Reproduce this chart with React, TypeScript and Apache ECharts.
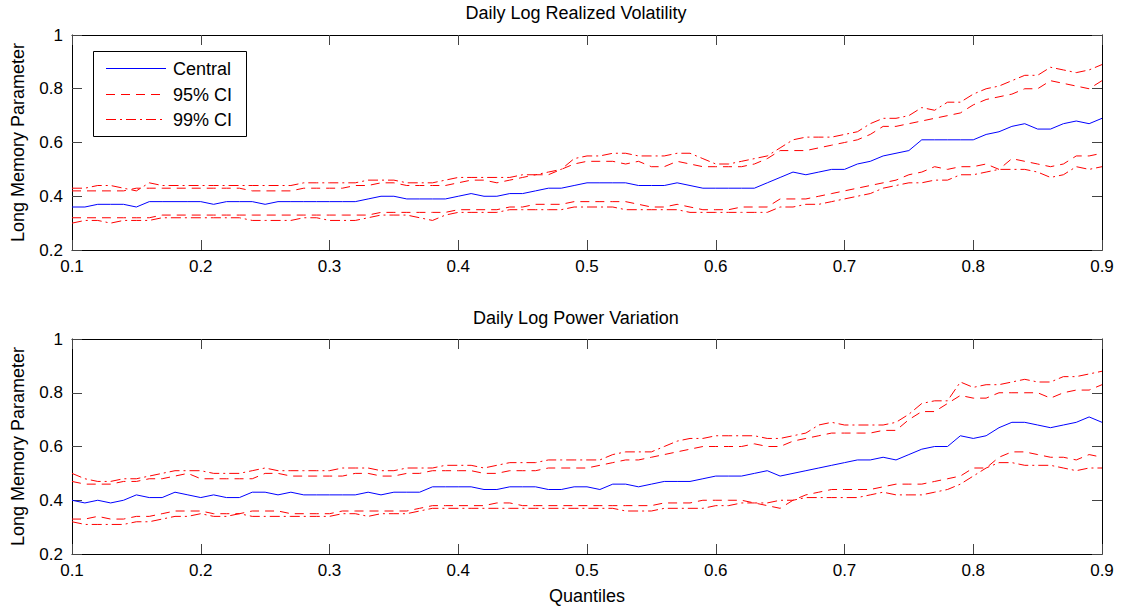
import React, { useEffect, useRef } from "react";
import * as echarts from "echarts";

const quantiles = [
  0.10, 0.11, 0.12, 0.13, 0.14, 0.15, 0.16, 0.17, 0.18, 0.19,
  0.20, 0.21, 0.22, 0.23, 0.24, 0.25, 0.26, 0.27, 0.28, 0.29,
  0.30, 0.31, 0.32, 0.33, 0.34, 0.35, 0.36, 0.37, 0.38, 0.39,
  0.40, 0.41, 0.42, 0.43, 0.44, 0.45, 0.46, 0.47, 0.48, 0.49,
  0.50, 0.51, 0.52, 0.53, 0.54, 0.55, 0.56, 0.57, 0.58, 0.59,
  0.60, 0.61, 0.62, 0.63, 0.64, 0.65, 0.66, 0.67, 0.68, 0.69,
  0.70, 0.71, 0.72, 0.73, 0.74, 0.75, 0.76, 0.77, 0.78, 0.79,
  0.80, 0.81, 0.82, 0.83, 0.84, 0.85, 0.86, 0.87, 0.88, 0.89,
  0.90,
];

const xTickLabels = ["0.1", "0.2", "0.3", "0.4", "0.5", "0.6", "0.7", "0.8", "0.9"];
const yTickLabels = ["0.2", "0.4", "0.6", "0.8", "1"];
const seriesNames = ["Central", "95% CI", "99% CI"];
const panelTitles = ["Daily Log Realized Volatility", "Daily Log Power Variation"];

// Daily Log Realized Volatility
const rvCentral = [
  0.36, 0.36, 0.37, 0.37, 0.37, 0.36, 0.38, 0.38, 0.38, 0.38,
  0.38, 0.37, 0.38, 0.38, 0.38, 0.37, 0.38, 0.38, 0.38, 0.38,
  0.38, 0.38, 0.38, 0.39, 0.40, 0.40, 0.39, 0.39, 0.39, 0.39,
  0.40, 0.41, 0.40, 0.40, 0.41, 0.41, 0.42, 0.43, 0.43, 0.44,
  0.45, 0.45, 0.45, 0.45, 0.44, 0.44, 0.44, 0.45, 0.44, 0.43,
  0.43, 0.43, 0.43, 0.43, 0.45, 0.47, 0.49, 0.48, 0.49, 0.50,
  0.50, 0.52, 0.53, 0.55, 0.56, 0.57, 0.61, 0.61, 0.61, 0.61,
  0.61, 0.63, 0.64, 0.66, 0.67, 0.65, 0.65, 0.67, 0.68, 0.67,
  0.69,
];
const rvUpper95 = [
  0.42, 0.42, 0.42, 0.42, 0.42, 0.43, 0.43, 0.43, 0.43, 0.43,
  0.43, 0.43, 0.43, 0.43, 0.42, 0.42, 0.42, 0.42, 0.43, 0.43,
  0.43, 0.43, 0.44, 0.44, 0.45, 0.45, 0.44, 0.44, 0.44, 0.44,
  0.45, 0.46, 0.46, 0.45, 0.46, 0.47, 0.48, 0.48, 0.50, 0.52,
  0.53, 0.53, 0.53, 0.52, 0.53, 0.51, 0.51, 0.53, 0.52, 0.51,
  0.51, 0.51, 0.51, 0.52, 0.54, 0.57, 0.57, 0.57, 0.58, 0.59,
  0.60, 0.61, 0.63, 0.66, 0.66, 0.67, 0.68, 0.69, 0.70, 0.71,
  0.74, 0.76, 0.77, 0.78, 0.80, 0.80, 0.83, 0.82, 0.81, 0.80,
  0.83,
];
const rvUpper99 = [
  0.43, 0.43, 0.44, 0.44, 0.43, 0.42, 0.45, 0.44, 0.44, 0.44,
  0.44, 0.44, 0.44, 0.44, 0.44, 0.44, 0.44, 0.44, 0.45, 0.45,
  0.45, 0.45, 0.45, 0.46, 0.46, 0.46, 0.45, 0.45, 0.45, 0.46,
  0.47, 0.47, 0.47, 0.47, 0.47, 0.48, 0.48, 0.49, 0.50, 0.54,
  0.55, 0.55, 0.56, 0.56, 0.55, 0.55, 0.55, 0.56, 0.56, 0.54,
  0.52, 0.52, 0.53, 0.54, 0.55, 0.58, 0.61, 0.62, 0.62, 0.62,
  0.63, 0.64, 0.67, 0.69, 0.69, 0.70, 0.73, 0.72, 0.75, 0.75,
  0.78, 0.80, 0.81, 0.83, 0.85, 0.85, 0.88, 0.87, 0.86, 0.87,
  0.89,
];
const rvLower95 = [
  0.32, 0.32, 0.32, 0.32, 0.32, 0.32, 0.32, 0.33, 0.33, 0.33,
  0.33, 0.33, 0.33, 0.33, 0.33, 0.33, 0.33, 0.33, 0.33, 0.33,
  0.33, 0.33, 0.33, 0.33, 0.34, 0.34, 0.34, 0.34, 0.34, 0.34,
  0.35, 0.35, 0.35, 0.35, 0.36, 0.36, 0.37, 0.37, 0.37, 0.38,
  0.38, 0.38, 0.38, 0.38, 0.37, 0.36, 0.36, 0.37, 0.36, 0.35,
  0.35, 0.35, 0.36, 0.36, 0.36, 0.39, 0.39, 0.39, 0.40, 0.41,
  0.42, 0.43, 0.44, 0.45, 0.46, 0.48, 0.49, 0.51, 0.50, 0.51,
  0.51, 0.52, 0.50, 0.54, 0.53, 0.52, 0.51, 0.52, 0.55, 0.55,
  0.56,
];
const rvLower99 = [
  0.30, 0.31, 0.31, 0.30, 0.31, 0.31, 0.31, 0.32, 0.32, 0.32,
  0.32, 0.32, 0.32, 0.32, 0.31, 0.31, 0.31, 0.31, 0.32, 0.32,
  0.31, 0.31, 0.31, 0.32, 0.33, 0.33, 0.33, 0.32, 0.31, 0.33,
  0.34, 0.34, 0.34, 0.34, 0.35, 0.35, 0.35, 0.35, 0.35, 0.36,
  0.36, 0.36, 0.36, 0.35, 0.35, 0.35, 0.35, 0.35, 0.34, 0.34,
  0.34, 0.34, 0.34, 0.34, 0.34, 0.36, 0.36, 0.37, 0.37, 0.38,
  0.39, 0.40, 0.41, 0.43, 0.44, 0.45, 0.45, 0.46, 0.46, 0.48,
  0.48, 0.49, 0.50, 0.50, 0.50, 0.49, 0.47, 0.48, 0.51, 0.50,
  0.51,
];

// Daily Log Power Variation
const pvCentral = [
  0.40, 0.39, 0.40, 0.39, 0.40, 0.42, 0.41, 0.41, 0.43, 0.42,
  0.41, 0.42, 0.41, 0.41, 0.43, 0.43, 0.42, 0.43, 0.42, 0.42,
  0.42, 0.42, 0.42, 0.43, 0.42, 0.43, 0.43, 0.43, 0.45, 0.45,
  0.45, 0.45, 0.44, 0.44, 0.45, 0.45, 0.45, 0.44, 0.44, 0.45,
  0.45, 0.44, 0.46, 0.46, 0.45, 0.46, 0.47, 0.47, 0.47, 0.48,
  0.49, 0.49, 0.49, 0.50, 0.51, 0.49, 0.50, 0.51, 0.52, 0.53,
  0.54, 0.55, 0.55, 0.56, 0.55, 0.57, 0.59, 0.60, 0.60, 0.64,
  0.63, 0.64, 0.67, 0.69, 0.69, 0.68, 0.67, 0.68, 0.69, 0.71,
  0.69,
];
const pvUpper95 = [
  0.47, 0.46, 0.46, 0.46, 0.47, 0.47, 0.48, 0.48, 0.49, 0.50,
  0.48, 0.48, 0.48, 0.48, 0.48, 0.50, 0.50, 0.49, 0.49, 0.49,
  0.49, 0.49, 0.50, 0.50, 0.49, 0.49, 0.50, 0.50, 0.51, 0.51,
  0.51, 0.51, 0.50, 0.50, 0.51, 0.51, 0.51, 0.52, 0.52, 0.52,
  0.52, 0.53, 0.54, 0.55, 0.55, 0.56, 0.57, 0.58, 0.59, 0.60,
  0.60, 0.60, 0.60, 0.61, 0.60, 0.60, 0.62, 0.63, 0.64, 0.65,
  0.65, 0.65, 0.65, 0.66, 0.66, 0.70, 0.73, 0.73, 0.76, 0.79,
  0.78, 0.78, 0.80, 0.80, 0.80, 0.80, 0.78, 0.80, 0.81, 0.81,
  0.83,
];
const pvUpper99 = [
  0.50, 0.48, 0.47, 0.47, 0.48, 0.48, 0.49, 0.50, 0.51, 0.51,
  0.51, 0.50, 0.50, 0.50, 0.51, 0.52, 0.51, 0.51, 0.51, 0.51,
  0.51, 0.52, 0.52, 0.52, 0.51, 0.51, 0.52, 0.52, 0.52, 0.53,
  0.53, 0.53, 0.52, 0.53, 0.54, 0.54, 0.54, 0.55, 0.55, 0.55,
  0.55, 0.55, 0.57, 0.58, 0.58, 0.58, 0.60, 0.62, 0.63, 0.63,
  0.64, 0.64, 0.64, 0.64, 0.63, 0.63, 0.64, 0.65, 0.68, 0.69,
  0.68, 0.68, 0.68, 0.68, 0.69, 0.72, 0.76, 0.77, 0.77, 0.84,
  0.82, 0.83, 0.83, 0.84, 0.85, 0.84, 0.84, 0.86, 0.86, 0.87,
  0.88,
];
const pvLower95 = [
  0.33, 0.33, 0.34, 0.33, 0.33, 0.34, 0.34, 0.35, 0.36, 0.36,
  0.36, 0.35, 0.35, 0.35, 0.36, 0.36, 0.36, 0.35, 0.35, 0.35,
  0.35, 0.36, 0.36, 0.36, 0.36, 0.36, 0.36, 0.37, 0.38, 0.38,
  0.38, 0.38, 0.38, 0.39, 0.39, 0.38, 0.38, 0.38, 0.38, 0.38,
  0.38, 0.38, 0.38, 0.38, 0.38, 0.38, 0.39, 0.39, 0.39, 0.40,
  0.40, 0.40, 0.40, 0.39, 0.38, 0.37, 0.40, 0.42, 0.43, 0.44,
  0.44, 0.44, 0.44, 0.45, 0.46, 0.46, 0.46, 0.47, 0.48, 0.49,
  0.52, 0.52, 0.56, 0.58, 0.58, 0.57, 0.56, 0.56, 0.55, 0.57,
  0.56,
];
const pvLower99 = [
  0.32, 0.31, 0.31, 0.31, 0.31, 0.32, 0.32, 0.33, 0.34, 0.34,
  0.35, 0.34, 0.34, 0.35, 0.34, 0.34, 0.34, 0.34, 0.34, 0.34,
  0.34, 0.35, 0.35, 0.34, 0.35, 0.35, 0.35, 0.36, 0.37, 0.37,
  0.37, 0.37, 0.37, 0.37, 0.37, 0.37, 0.37, 0.37, 0.37, 0.37,
  0.37, 0.37, 0.37, 0.36, 0.36, 0.36, 0.37, 0.37, 0.37, 0.37,
  0.38, 0.38, 0.39, 0.39, 0.39, 0.40, 0.40, 0.41, 0.41, 0.41,
  0.41, 0.41, 0.42, 0.43, 0.42, 0.42, 0.42, 0.43, 0.44, 0.46,
  0.49, 0.52, 0.54, 0.54, 0.53, 0.53, 0.53, 0.52, 0.51, 0.52,
  0.52,
];

const FONT = "'Liberation Sans', Arial, Helvetica, sans-serif";
const BLUE = "#0000ff";
const RED = "#ff0000";
const DASH = [9, 6];
const DASHDOT = [10, 4, 2, 4];

const GRID_LEFT = 72;
const GRID_RIGHT = 19;
const PANEL_TOPS = [35, 339];
const PANEL_H = 215;

function pair(values: number[]) {
  return quantiles.map((q, i) => [q, values[i]]);
}

export default function App() {
  const ref = useRef<HTMLDivElement>(null);

  useEffect(() => {
    if (!ref.current) return;
    const chart = echarts.init(ref.current, null, { renderer: "svg" });

    const xLabelFmt = (v: number) => xTickLabels[Math.round((v - 0.1) / 0.1)] ?? "";
    const yLabelFmt = (v: number) => yTickLabels[Math.round((v - 0.2) / 0.2)] ?? "";

    const axisLine = { show: true, onZero: false, lineStyle: { color: "#000", width: 1 } };
    const tick = { show: true, inside: true, length: 10, lineStyle: { color: "#444", width: 1 } };

    const grids: any[] = [];
    const xAxes: any[] = [];
    const yAxes: any[] = [];
    PANEL_TOPS.forEach((top, p) => {
      grids.push({ left: GRID_LEFT, right: GRID_RIGHT, top, height: PANEL_H });
      xAxes.push({
        type: "value", gridIndex: p, position: "bottom",
        min: 0.1, max: 0.9, interval: 0.1,
        axisLine, axisTick: tick, splitLine: { show: false },
        axisLabel: { formatter: xLabelFmt, color: "#000", fontSize: 17, fontFamily: FONT, margin: 8 },
        name: p === 1 ? "Quantiles" : "",
        nameLocation: "middle", nameGap: 33,
        nameTextStyle: { color: "#000", fontSize: 18, fontFamily: FONT },
      });
      xAxes.push({
        type: "value", gridIndex: p, position: "top",
        min: 0.1, max: 0.9, interval: 0.1,
        axisLine, axisTick: tick, splitLine: { show: false },
        axisLabel: { show: false },
      });
      yAxes.push({
        type: "value", gridIndex: p, position: "left",
        min: 0.2, max: 1, interval: 0.2,
        axisLine, axisTick: tick, splitLine: { show: false },
        axisLabel: { formatter: yLabelFmt, color: "#000", fontSize: 17, fontFamily: FONT, margin: 9 },
        name: "Long Memory Parameter",
        nameLocation: "middle", nameGap: 45,
        nameTextStyle: { color: "#000", fontSize: 18, fontFamily: FONT },
      });
      yAxes.push({
        type: "value", gridIndex: p, position: "right",
        min: 0.2, max: 1, interval: 0.2,
        axisLine, axisTick: tick, splitLine: { show: false },
        axisLabel: { show: false },
      });
    });

    const panels = [
      [rvCentral, rvUpper95, rvLower95, rvUpper99, rvLower99],
      [pvCentral, pvUpper95, pvLower95, pvUpper99, pvLower99],
    ];
    const styles = [
      { color: BLUE, type: "solid" as any, name: seriesNames[0] },
      { color: RED, type: DASH as any, name: seriesNames[1] },
      { color: RED, type: DASH as any, name: seriesNames[1] },
      { color: RED, type: DASHDOT as any, name: seriesNames[2] },
      { color: RED, type: DASHDOT as any, name: seriesNames[2] },
    ];
    const series: any[] = [];
    panels.forEach((arrs, p) => {
      arrs.forEach((vals, k) => {
        series.push({
          type: "line",
          name: styles[k].name,
          xAxisIndex: p * 2,
          yAxisIndex: p * 2,
          data: pair(vals),
          showSymbol: false,
          symbol: "none",
          lineStyle: { color: styles[k].color, width: 1, type: styles[k].type },
          itemStyle: { color: styles[k].color },
          emphasis: { disabled: true },
          z: k === 0 ? 3 : 2,
        });
      });
    });

    const legendRows = [68, 94, 119];
    const legendTypes: any[] = [null, DASH, DASHDOT];
    const legendColors = [BLUE, RED, RED];
    const graphic: any[] = [
      {
        type: "text", left: undefined, x: 576, y: 13, z: 10,
        style: { text: panelTitles[0], fill: "#000", font: `18px ${FONT}`, textAlign: "center", textVerticalAlign: "middle" },
      },
      {
        type: "text", x: 576, y: 318, z: 10,
        style: { text: panelTitles[1], fill: "#000", font: `18px ${FONT}`, textAlign: "center", textVerticalAlign: "middle" },
      },
      {
        type: "rect", z: 20,
        shape: { x: 93.5, y: 51.5, width: 153, height: 85 },
        style: { fill: "#fff", stroke: "#000", lineWidth: 1 },
      },
    ];
    legendRows.forEach((y, i) => {
      graphic.push({
        type: "line", z: 21,
        shape: { x1: 106, y1: y + 0.5, x2: 166, y2: y + 0.5 },
        style: { stroke: legendColors[i], lineWidth: 1, lineDash: legendTypes[i] || undefined },
      });
      graphic.push({
        type: "text", z: 21, x: 173, y: y + 1,
        style: { text: seriesNames[i], fill: "#000", font: `18px ${FONT}`, textAlign: "left", textVerticalAlign: "middle" },
      });
    });

    chart.setOption({
      animation: false,
      backgroundColor: "#fff",
      textStyle: { fontFamily: FONT },
      grid: grids,
      xAxis: xAxes,
      yAxis: yAxes,
      series,
      graphic,
    });

    return () => chart.dispose();
  }, []);

  return <div ref={ref} style={{ width: 1121, height: 610, position: "absolute", left: 0, top: 0 }} />;
}
